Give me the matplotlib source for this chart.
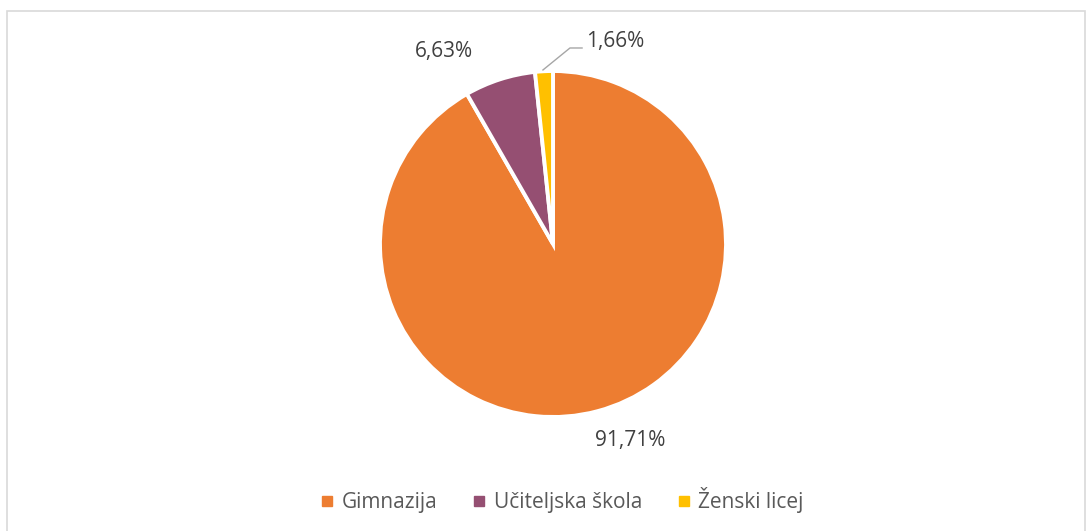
import matplotlib; matplotlib.use("Agg")
import matplotlib.pyplot as plt
from matplotlib.lines import Line2D
from matplotlib.patches import Rectangle

categories = ["Gimnazija", "Učiteljska škola", "Ženski licej"]
shares = [91.71, 6.63, 1.66]
colors = ["#ED7D31", "#954F72", "#FFC000"]
# label offsets in pie-radius units (layout only)
label_pos = [(0.445, -1.133), (-0.63, 1.11), (0.36, 1.168)]

W, H = 1086, 531
fig = plt.figure(figsize=(W/100, H/100), dpi=100)
plt.rcParams["font.family"] = ["Open Sans", "DejaVu Sans"]
fig.patches.append(Rectangle((7/W, -0.1), (1085-7)/W, (H-11)/H + 0.1, transform=fig.transFigure,
                             fill=False, edgecolor="#d9d9d9", linewidth=1.2))

cx, cy, r = 553, 244, 173
ax = fig.add_axes([(cx-r)/W, (H-cy-r)/H, 2*r/W, 2*r/H])
ax.pie(shares, colors=colors, startangle=90, counterclock=False, radius=1,
       wedgeprops=dict(edgecolor="white", linewidth=2.8))
ax.set_xlim(-1, 1); ax.set_ylim(-1, 1); ax.set_aspect("equal"); ax.axis("off")

for v, (x, y) in zip(shares, label_pos):
    ax.text(x, y, f"{v:.2f}%".replace(".", ","), ha="center", va="center",
            fontsize=15, color="#404040", clip_on=False)
ax.plot([-0.058, 0.098, 0.168], [1.006, 1.133, 1.133], color="#a6a6a6", lw=1, clip_on=False)

handles = [Line2D([], [], marker="s", ls="", color=c, markersize=7) for c in colors]
fig.legend(handles, categories, loc="center", bbox_to_anchor=(560/W, (H-500)/H), ncol=3,
           frameon=False, fontsize=15, labelcolor="#595959", handletextpad=0.2,
           columnspacing=1.5, handlelength=1.0)

fig.savefig("out.png", dpi=100)
